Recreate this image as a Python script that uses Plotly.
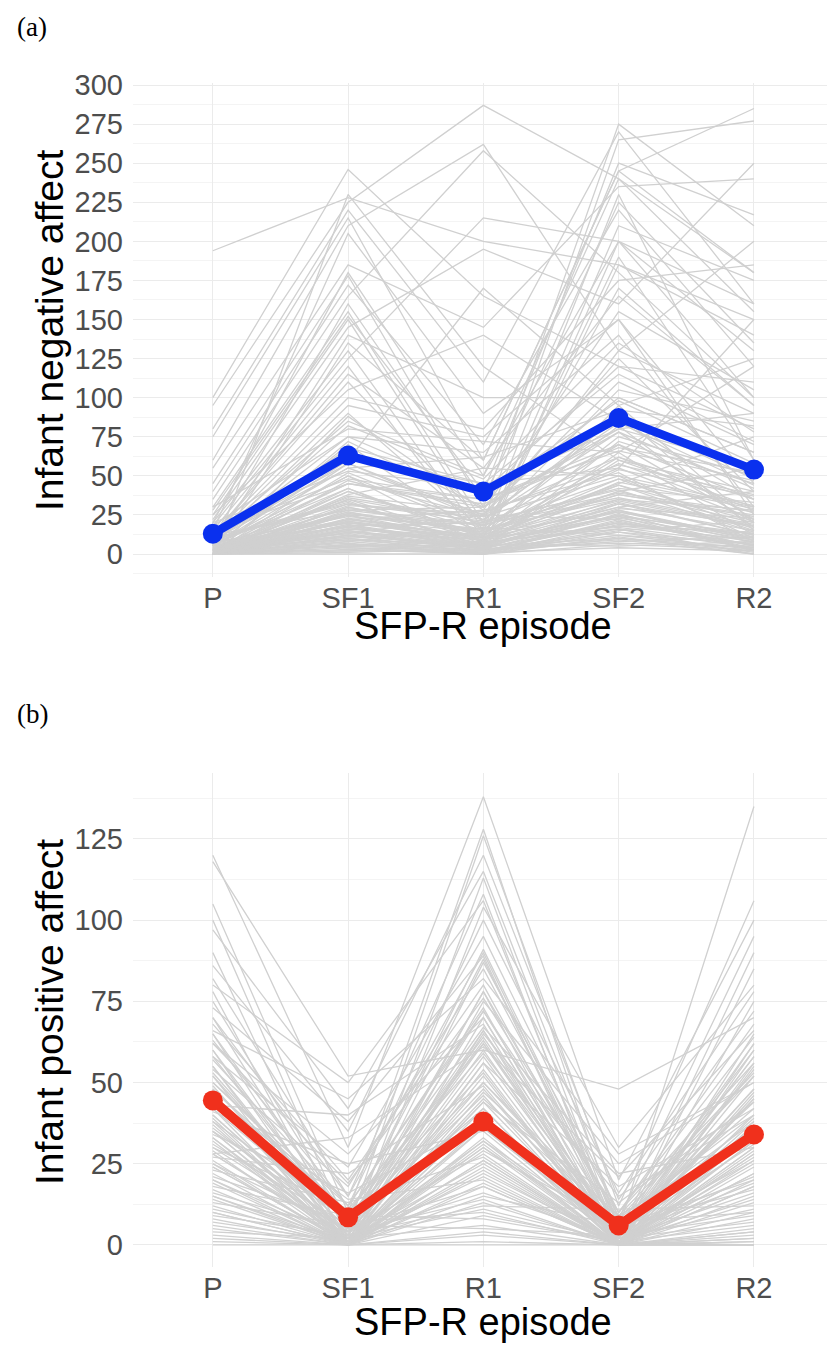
import plotly.graph_objects as go

episodes = ["P", "SF1", "R1", "SF2", "R2"]

# Panel (a): infant negative affect, one row per infant (P, SF1, R1, SF2, R2)
neg_individual = [
    [194, 228, 200, 185, 150], [100, 246, 165, 120, 80], [95, 225, 287, 240, 180],
    [80, 220, 110, 270, 160], [75, 215, 60, 245, 285], [60, 210, 262, 130, 90],
    [55, 185, 145, 235, 240], [45, 178, 30, 275, 210], [40, 172, 70, 220, 120],
    [35, 165, 258, 180, 100], [30, 155, 20, 265, 277], [28, 152, 40, 250, 217],
    [25, 150, 15, 230, 60], [22, 145, 195, 160, 250], [20, 130, 10, 210, 175],
    [18, 125, 215, 200, 130], [15, 120, 5, 185, 140], [12, 100, 80, 175, 185],
    [10, 95, 75, 150, 45], [10, 85, 50, 240, 155], [8, 75, 65, 140, 30],
    [8, 65, 40, 120, 110], [5, 60, 170, 95, 20], [5, 55, 25, 110, 70],
    [5, 50, 5, 200, 160], [3, 45, 30, 80, 90], [3, 40, 12, 90, 15],
    [2, 35, 8, 75, 50], [0, 230, 120, 60, 40], [15, 205, 90, 150, 25],
    [20, 180, 50, 200, 100], [10, 160, 35, 225, 135], [5, 140, 100, 100, 65],
    [0, 135, 60, 245, 180], [12, 110, 20, 130, 200], [25, 105, 140, 85, 35],
    [8, 90, 15, 170, 95], [30, 80, 72, 65, 120], [0, 70, 10, 190, 60],
    [5, 68, 45, 55, 150], [10, 58, 25, 125, 40], [0, 52, 18, 105, 85],
    [15, 48, 35, 70, 20], [6, 42, 8, 95, 125], [0, 38, 55, 50, 10],
    [4, 36, 22, 88, 48], [9, 33, 5, 60, 30], [0, 30, 14, 45, 75],
    [12, 28, 30, 78, 22], [3, 27, 9, 40, 55], [0, 25, 4, 65, 12],
    [7, 24, 16, 35, 28], [2, 22, 28, 52, 8], [0, 21, 7, 30, 40],
    [5, 20, 12, 48, 16], [1, 19, 3, 25, 5], [0, 18, 20, 42, 33],
    [8, 17, 6, 28, 10], [0, 16, 11, 38, 24], [3, 15, 2, 20, 6],
    [0, 14, 9, 32, 18], [6, 13, 25, 22, 3], [0, 12, 4, 18, 14],
    [2, 11, 13, 27, 9], [0, 10, 1, 15, 21], [4, 9, 6, 24, 2],
    [0, 8, 17, 12, 7], [1, 7, 0, 19, 13], [0, 6, 5, 10, 4],
    [3, 5, 8, 16, 0], [0, 4, 2, 8, 11], [0, 3, 0, 14, 1],
    [2, 2, 6, 5, 8], [0, 1, 3, 9, 0], [0, 0, 0, 6, 3],
    [1, 26, 14, 58, 26], [0, 23, 10, 44, 15], [4, 29, 19, 36, 19],
    [0, 31, 26, 62, 35], [10, 34, 3, 72, 45], [0, 40, 15, 82, 17],
    [6, 45, 32, 68, 52], [0, 12, 0, 26, 2], [3, 18, 7, 33, 12],
    [0, 22, 11, 17, 6], [1, 15, 4, 29, 23], [0, 9, 2, 21, 4],
    [5, 20, 9, 46, 29], [0, 27, 13, 54, 37], [2, 32, 21, 41, 14],
    [0, 6, 0, 11, 0], [0, 14, 3, 7, 5], [7, 25, 19, 39, 27],
    [0, 17, 5, 23, 9], [0, 2, 1, 4, 2], [14, 62, 45, 115, 72],
    [18, 75, 38, 98, 58], [0, 88, 28, 155, 105], [9, 55, 62, 92, 82],
    [0, 47, 24, 84, 44], [0, 5, 2, 12, 3], [2, 10, 4, 20, 8],
    [0, 15, 6, 25, 10], [4, 20, 10, 30, 15], [0, 25, 8, 35, 18],
    [1, 30, 12, 40, 20], [0, 8, 1, 22, 5], [3, 12, 5, 28, 7],
    [0, 18, 3, 32, 12], [6, 22, 14, 38, 25], [0, 28, 18, 48, 30],
    [2, 35, 20, 55, 22], [0, 42, 10, 62, 28], [5, 50, 16, 70, 35],
    [0, 58, 22, 78, 42], [8, 4, 0, 10, 2], [0, 6, 3, 14, 6],
    [1, 11, 7, 18, 9], [0, 16, 9, 24, 13], [3, 21, 11, 34, 17],
    [0, 26, 15, 44, 21], [10, 32, 24, 50, 31], [0, 37, 27, 57, 38],
    [15, 45, 35, 66, 47], [20, 53, 42, 80, 56], [0, 72, 30, 100, 65],
    [6, 82, 48, 135, 78], [12, 115, 55, 165, 95], [3, 13, 2, 16, 4],
    [0, 19, 6, 27, 11],
]
neg_mean = [13, 63, 40, 87, 54]

# Panel (b): infant positive affect, one row per infant (P, SF1, R1, SF2, R2)
pos_individual = [
    [120, 30, 138, 20, 100], [118, 52, 60, 48, 70], [105, 10, 128, 5, 135],
    [100, 5, 126, 12, 106], [97, 42, 115, 8, 95], [90, 2, 113, 3, 90],
    [82, 15, 108, 0, 65], [80, 50, 106, 2, 85], [78, 0, 104, 30, 80],
    [75, 8, 91, 6, 60], [73, 38, 89, 0, 55], [70, 4, 87, 10, 68],
    [68, 20, 80, 4, 58], [65, 1, 75, 25, 50], [63, 12, 73, 0, 45],
    [62, 28, 70, 2, 75], [60, 0, 65, 15, 40], [58, 6, 63, 1, 52],
    [55, 3, 60, 0, 62], [54, 18, 85, 7, 38], [52, 0, 30, 3, 48],
    [50, 10, 67, 22, 30], [49, 2, 25, 0, 56], [48, 7, 72, 5, 35],
    [47, 0, 56, 18, 42], [45, 14, 20, 0, 28], [44, 5, 62, 2, 54],
    [42, 0, 47, 9, 33], [41, 25, 35, 1, 25], [40, 3, 78, 0, 46],
    [39, 0, 15, 6, 20], [38, 9, 53, 0, 37], [37, 1, 44, 13, 44],
    [36, 4, 28, 0, 22], [35, 0, 66, 4, 31], [34, 16, 38, 0, 18],
    [33, 2, 50, 8, 40], [32, 0, 22, 1, 27], [31, 6, 42, 0, 15],
    [30, 11, 59, 5, 36], [29, 0, 33, 0, 24], [28, 3, 12, 11, 12],
    [27, 22, 49, 0, 32], [26, 0, 36, 3, 19], [25, 5, 18, 0, 29],
    [24, 1, 45, 7, 10], [23, 13, 27, 0, 26], [22, 0, 40, 2, 16],
    [21, 7, 10, 0, 8], [20, 2, 32, 4, 21], [19, 0, 24, 0, 13],
    [18, 9, 8, 1, 6], [17, 0, 29, 6, 17], [16, 4, 14, 0, 4],
    [15, 1, 37, 2, 11], [14, 0, 19, 0, 2], [13, 6, 5, 3, 9],
    [12, 0, 23, 0, 5], [11, 2, 11, 1, 14], [10, 0, 31, 0, 3],
    [9, 3, 16, 2, 7], [8, 0, 3, 0, 1], [7, 1, 21, 0, 4],
    [6, 0, 9, 1, 0], [5, 0, 26, 0, 2], [4, 2, 6, 0, 0],
    [3, 0, 13, 0, 1], [2, 0, 1, 0, 0], [1, 0, 4, 0, 0],
    [0, 0, 0, 0, 0], [86, 35, 120, 14, 72], [66, 45, 82, 28, 50],
    [58, 24, 95, 10, 64], [43, 40, 68, 0, 47], [57, 12, 100, 16, 78],
    [46, 0, 54, 0, 60], [35, 8, 64, 3, 39], [62, 19, 76, 9, 53],
    [53, 6, 46, 0, 34], [28, 33, 61, 21, 66], [40, 2, 56, 0, 30],
    [55, 0, 70, 2, 45], [30, 4, 48, 1, 38], [65, 8, 88, 3, 58],
    [25, 0, 40, 0, 28], [48, 10, 62, 6, 42], [35, 1, 52, 0, 35],
    [70, 15, 90, 4, 62], [20, 0, 32, 0, 20], [45, 3, 58, 2, 48],
    [15, 0, 26, 0, 18], [60, 5, 78, 8, 52], [38, 0, 44, 1, 32],
    [52, 6, 66, 0, 40], [28, 2, 36, 3, 26], [10, 0, 18, 0, 10],
    [33, 0, 42, 0, 30], [42, 7, 50, 5, 44], [24, 1, 30, 0, 22],
    [50, 12, 72, 10, 56],
]
pos_mean = [44.5, 8.5, 38, 6, 34]

W, H = 827, 1345
FONT = "Liberation Sans, Arial, sans-serif"
GREY = "#d0d0d0"
BLUE = "#0a30ee"
RED = "#f0301c"

fig = go.Figure()

def px_x(p):
    return p / W

def px_y(p):
    return 1 - p / H

for row in neg_individual:
    fig.add_trace(go.Scatter(x=episodes, y=row, mode="lines", xaxis="x", yaxis="y",
                             line=dict(color=GREY, width=1.3), hoverinfo="skip", showlegend=False))
fig.add_trace(go.Scatter(x=episodes, y=neg_mean, mode="lines+markers", xaxis="x", yaxis="y",
                         line=dict(color=BLUE, width=8.5), marker=dict(color=BLUE, size=20),
                         showlegend=False))

for row in pos_individual:
    fig.add_trace(go.Scatter(x=episodes, y=row, mode="lines", xaxis="x2", yaxis="y2",
                             line=dict(color=GREY, width=1.3), hoverinfo="skip", showlegend=False))
fig.add_trace(go.Scatter(x=episodes, y=pos_mean, mode="lines+markers", xaxis="x2", yaxis="y2",
                         line=dict(color=RED, width=9.5), marker=dict(color=RED, size=20),
                         showlegend=False))

xdom = [px_x(133), 1.0]
xcommon = dict(type="category", categoryorder="array", categoryarray=episodes,
               range=[-0.59, 4.54], showgrid=True, gridcolor="#ebebeb", gridwidth=1.3,
               zeroline=False, showline=False, ticks="", ticklabelstandoff=1,
               automargin=False,
               tickfont=dict(family=FONT, size=29, color="#4d4d4d"), domain=xdom)
ycommon = dict(showgrid=True, gridcolor="#ebebeb", gridwidth=1.3, zeroline=False,
               showline=False, ticks="", ticklabelstandoff=9, automargin=False,
               tickfont=dict(family=FONT, size=29, color="#4d4d4d"),
               minor=dict(dtick=12.5, showgrid=True, gridcolor="#f4f4f4", gridwidth=0.9))

fig.update_layout(
    width=W, height=H, margin=dict(l=0, r=0, t=0, b=0, autoexpand=False),
    paper_bgcolor="white", plot_bgcolor="white",
    xaxis=dict(xcommon, anchor="y"),
    yaxis=dict(ycommon, anchor="x", domain=[px_y(577), px_y(83)],
               range=[-14.7, 301.3], tick0=0, dtick=25),
    xaxis2=dict(xcommon, anchor="y2"),
    yaxis2=dict(ycommon, anchor="x2", domain=[px_y(1267), px_y(773)],
                range=[-6.8, 145.3], tick0=0, dtick=25),
)

ann = [
    dict(text="(a)", x=px_x(15), y=px_y(27), xanchor="left", yanchor="middle",
         font=dict(family="Liberation Serif, Times New Roman, serif", size=27, color="black")),
    dict(text="(b)", x=px_x(15), y=px_y(714), xanchor="left", yanchor="middle",
         font=dict(family="Liberation Serif, Times New Roman, serif", size=27, color="black")),
    dict(text="Infant negative affect", x=px_x(49), y=px_y(330), textangle=-90,
         xanchor="center", yanchor="middle", font=dict(family=FONT, size=39, color="black")),
    dict(text="Infant positive affect", x=px_x(49), y=px_y(1012), textangle=-90,
         xanchor="center", yanchor="middle", font=dict(family=FONT, size=39, color="black")),
    dict(text="SFP-R episode", x=px_x(483), y=px_y(626), xanchor="center", yanchor="middle",
         font=dict(family=FONT, size=38, color="black")),
    dict(text="SFP-R episode", x=px_x(483), y=px_y(1322), xanchor="center", yanchor="middle",
         font=dict(family=FONT, size=38, color="black")),
]
for a in ann:
    a.update(xref="paper", yref="paper", showarrow=False)
fig.update_layout(annotations=ann)

fig.write_html("out.html")
